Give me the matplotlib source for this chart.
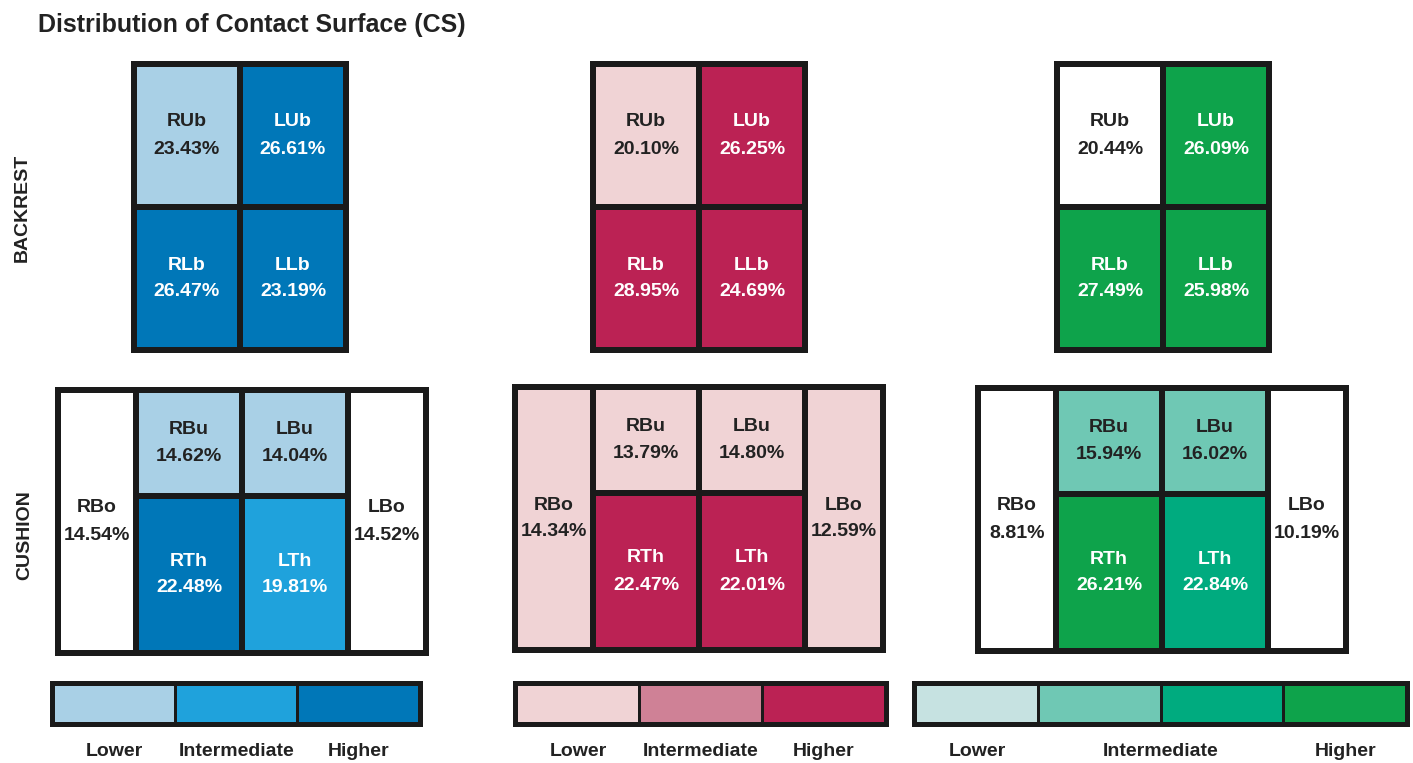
import matplotlib
matplotlib.use("Agg")
import matplotlib.pyplot as plt
from matplotlib.patches import Rectangle

plt.rcParams['font.family'] = ['Liberation Sans Narrow', 'Liberation Sans', 'DejaVu Sans']

# data
title = "Distribution of Contact Surface (CS)"
back_labels = ["RUb", "LUb", "RLb", "LLb"]
cush_labels = ["RBo", "RBu", "LBu", "RTh", "LTh", "LBo"]

back_pct = [[23.43, 26.61, 26.47, 23.19],
            [20.10, 26.25, 28.95, 24.69],
            [20.44, 26.09, 27.49, 25.98]]
cush_pct = [[14.54, 14.62, 14.04, 22.48, 19.81, 14.52],
            [14.34, 13.79, 14.80, 22.47, 22.01, 12.59],
            [8.81, 15.94, 16.02, 26.21, 22.84, 10.19]]

# colour level per cell (-1 = white), index into each palette
back_lvl = [[0, 2, 2, 2],
            [0, 2, 2, 2],
            [-1, 3, 3, 3]]
cush_lvl = [[-1, 0, 0, 2, 1, -1],
            [0, 0, 0, 2, 2, 0],
            [-1, 1, 1, 3, 2, -1]]

palettes = [["#a9d0e6", "#1fa2dc", "#0077b8"],
            ["#f0d3d5", "#cf8196", "#bb2254"],
            ["#c6e2e1", "#6fc8b4", "#00ab7f", "#0ea34b"]]
legend_names = ["Lower", "Intermediate", "Higher"]
legend_pos = [[0, 1, 2], [0, 1, 2], [0, 1.5, 3]]

# layout (pixels)
W, H = 1413, 763
back_x0 = [131, 590, 1054]
back_y0 = 61
cush_x0 = [55, 512, 975]
cush_y0 = [387, 384, 385]
leg_x0 = [50, 513, 912]
leg_w = [373, 376, 498]
leg_y0, leg_h = 681, 46
bw = 6  # border width

fig = plt.figure(figsize=(W / 100, H / 100), dpi=100)
ax = fig.add_axes([0, 0, 1, 1])
ax.set_xlim(0, W)
ax.set_ylim(H, 0)
ax.axis('off')

fs = 14


def cell(x, y, w, h, lvl, pal, label, pct):
    fc = "white" if lvl < 0 else pal[lvl]
    ax.add_patch(Rectangle((x, y), w, h, facecolor=fc, edgecolor='none'))
    dark = lvl >= 1 and not (len(pal) == 4 and lvl == 1)
    tc = 'white' if dark else '#222222'
    ax.text(x + w / 2, y + h / 2 - 13.5, label, ha='center', va='center',
            fontsize=fs, fontweight='bold', color=tc)
    ax.text(x + w / 2, y + h / 2 + 13.5, "%.2f%%" % pct, ha='center', va='center',
            fontsize=fs, fontweight='bold', color=tc)


for p in range(3):
    pal = palettes[p]
    # backrest 2x2
    bx, by = back_x0[p], back_y0
    cw, ch = 100, 137
    ax.add_patch(Rectangle((bx, by), 2 * cw + 3 * bw, 2 * ch + 3 * bw, facecolor='#1a1a1a'))
    for i in range(4):
        r, c = divmod(i, 2)
        cell(bx + bw + c * (cw + bw), by + bw + r * (ch + bw), cw, ch,
             back_lvl[p][i], pal, back_labels[i], back_pct[p][i])

    # cushion
    cx, cy = cush_x0[p], cush_y0[p]
    sw, mw, uh, lh = 72, 100, 100, 151
    tw = 2 * sw + 2 * mw + 5 * bw
    th = uh + lh + 3 * bw
    ax.add_patch(Rectangle((cx, cy), tw, th, facecolor='#1a1a1a'))
    full = th - 2 * bw
    cols = [cx + bw, cx + 2 * bw + sw, cx + 3 * bw + sw + mw, cx + 4 * bw + sw + 2 * mw]
    cell(cols[0], cy + bw, sw, full, cush_lvl[p][0], pal, cush_labels[0], cush_pct[p][0])
    cell(cols[1], cy + bw, mw, uh, cush_lvl[p][1], pal, cush_labels[1], cush_pct[p][1])
    cell(cols[2], cy + bw, mw, uh, cush_lvl[p][2], pal, cush_labels[2], cush_pct[p][2])
    cell(cols[1], cy + 2 * bw + uh, mw, lh, cush_lvl[p][3], pal, cush_labels[3], cush_pct[p][3])
    cell(cols[2], cy + 2 * bw + uh, mw, lh, cush_lvl[p][4], pal, cush_labels[4], cush_pct[p][4])
    cell(cols[3], cy + bw, sw, full, cush_lvl[p][5], pal, cush_labels[5], cush_pct[p][5])

    # legend bar
    lx, lw = leg_x0[p], leg_w[p]
    n = len(pal)
    ax.add_patch(Rectangle((lx, leg_y0), lw, leg_h, facecolor='#1a1a1a'))
    seg = (lw - 2 * 5 - (n - 1) * 3) / n
    for k in range(n):
        ax.add_patch(Rectangle((lx + 5 + k * (seg + 3), leg_y0 + 5), seg, leg_h - 10,
                               facecolor=pal[k], edgecolor='none'))
    for name, pos in zip(legend_names, legend_pos[p]):
        ax.text(lx + 5 + pos * (seg + 3) + seg / 2, 751, name, ha='center', va='center',
                fontsize=fs, fontweight='bold', color='#222222')

ax.text(38, 25, title, ha='left', va='center', fontsize=18, fontweight='bold', color='#222222')
ax.text(22, 208, "BACKREST", rotation=90, ha='center', va='center', fontsize=fs,
        fontweight='bold', color='#222222')
ax.text(25, 535, "CUSHION", rotation=90, ha='center', va='center', fontsize=fs,
        fontweight='bold', color='#222222')

fig.savefig("out.png", dpi=100)
